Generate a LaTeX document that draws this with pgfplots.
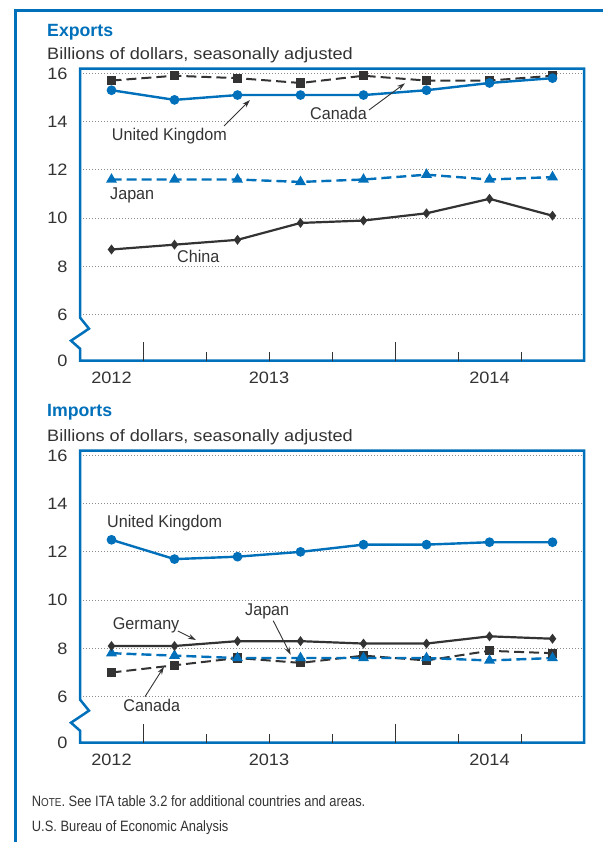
\documentclass[border=0pt]{standalone}
\usepackage{fontspec}
\setmainfont{Liberation Sans}
\newfontfamily\widefont{Liberation Sans}[FakeStretch=1.1]
\newfontfamily\narrowfont{Liberation Sans}[FakeStretch=0.95]
\newfontfamily\notefont{Liberation Sans}[FakeStretch=0.86]
\usepackage{pgfplots}
\pgfplotsset{compat=1.18}
\usetikzlibrary{arrows.meta}
\definecolor{beablue}{RGB}{0,112,186}
\definecolor{dk}{RGB}{51,51,51}
\definecolor{gridgray}{RGB}{140,140,140}
\newcommand\titf{\fontsize{17.7bp}{20bp}\selectfont\bfseries}
\newcommand\subf{\widefont\fontsize{16.5bp}{19bp}\selectfont}
\newcommand\lblf{\narrowfont\fontsize{17bp}{19bp}\selectfont}
\newcommand\notef{\notefont\fontsize{15bp}{17bp}\selectfont}

\pgfplotstableread{
x canE ukE japE chnE ukI gerI japI canI
0 15.7 15.3 11.6 8.7  12.5 8.1 7.8 7.0
1 15.9 14.9 11.6 8.9  11.7 8.1 7.7 7.3
2 15.8 15.1 11.6 9.1  11.8 8.3 7.6 7.6
3 15.6 15.1 11.5 9.8  12.0 8.3 7.6 7.4
4 15.9 15.1 11.6 9.9  12.3 8.2 7.6 7.7
5 15.7 15.3 11.8 10.2 12.3 8.2 7.6 7.5
6 15.7 15.6 11.6 10.8 12.4 8.5 7.5 7.9
7 15.9 15.8 11.7 10.1 12.4 8.4 7.6 7.8
}\data

\pgfplotsset{
  panel/.style={
    width=504bp, height=292bp, scale only axis,
    anchor=south west,
    xmin=-0.5, xmax=7.5, ymin=4.1, ymax=16.2,
    axis line style={draw=none},
    clip=false,
    /pgf/number format/assume math mode=true,
    ytick={6,8,10,12,14,16}, yticklabels={6,8,10,12,14,16},
    extra y ticks={4.1}, extra y tick labels={0},
    extra y tick style={grid=none},
    ymajorgrids,
    grid style={gridgray, line width=0.8bp, dash pattern=on 0.8bp off 2.2bp},
    major tick length=0pt,
    xtick style={draw=none}, ytick style={draw=none},
    xtick={0,2.5,6}, xticklabels={2012,2013,2014},
    xticklabel style={anchor=base, yshift=-22.5bp, font=\subf, text=dk},
    yticklabel style={anchor=east, inner sep=0pt, xshift=-12.3bp, font=\subf, text=dk},
  },
  blueline/.style={beablue, line width=2.4bp},
  darkline/.style={dk, line width=2.2bp},
  dashpat/.style={dash pattern=on 10bp off 5bp},
}

\newcommand\panelframe{%
  \draw[beablue, line width=2.5bp, line join=miter]
    (axis cs:-0.5,5.88) -- ([xshift=9bp]axis cs:-0.5,5.42) -- ([xshift=-9bp]axis cs:-0.5,4.92)
    -- (axis cs:-0.5,4.59) -- (axis cs:-0.5,4.1) -- (axis cs:7.5,4.1) -- (axis cs:7.5,16.2)
    -- (axis cs:-0.5,16.2) -- cycle;
  \draw[dk, line width=1bp] (axis cs:0.5,4.1) -- ++(0bp,19bp);
  \draw[dk, line width=1bp] (axis cs:4.5,4.1) -- ++(0bp,19bp);
  \draw[dk, line width=1bp] (axis cs:1.5,4.1) -- ++(0bp,9bp);
  \draw[dk, line width=1bp] (axis cs:2.5,4.1) -- ++(0bp,9bp);
  \draw[dk, line width=1bp] (axis cs:3.5,4.1) -- ++(0bp,9bp);
  \draw[dk, line width=1bp] (axis cs:5.5,4.1) -- ++(0bp,9bp);
  \draw[dk, line width=1bp] (axis cs:6.5,4.1) -- ++(0bp,9bp);
}

\begin{document}
\begin{tikzpicture}[x=1bp, y=1bp]
\path[use as bounding box] (0bp,0bp) rectangle (603bp,-842bp);
\draw[beablue, line width=2.7bp] (15.5,-842) -- (15.5,-10.5) -- (603,-10.5);

% ---------- Exports ----------
\node[anchor=base west, inner sep=0pt, text=beablue, font=\titf] at (47,-36.7) {Exports};
\node[anchor=base west, inner sep=0pt, text=dk, font=\subf] at (47,-59.3) {Billions of dollars, seasonally adjusted};
\begin{axis}[panel, at={(80bp,-360.5bp)}]
  \addplot[darkline, line width=2bp, dashpat, mark=square*, mark size=3.6bp, mark options={solid, fill=dk}] table[x=x, y=canE] {\data};
  \addplot[blueline, mark=*, mark size=3.6bp, mark options={solid, fill=beablue}] table[x=x, y=ukE] {\data};
  \addplot[blueline, dashpat, mark=triangle*, mark size=4bp, mark options={solid, fill=beablue}] table[x=x, y=japE] {\data};
  \addplot[darkline, mark=diamond*, mark size=3.2bp, mark options={solid, fill=dk}] table[x=x, y=chnE] {\data};
  \panelframe
\end{axis}
\node[anchor=base west, inner sep=0pt, text=dk, font=\lblf] at (111.7,-140) {United Kingdom};
\draw[dk, line width=0.9bp, -{Stealth[length=8bp, width=5bp]}] (224,-126) -- (250,-100);
\node[anchor=base west, inner sep=0pt, text=dk, font=\lblf] at (310,-119.3) {Canada};
\draw[dk, line width=0.9bp, -{Stealth[length=8bp, width=5bp]}] (369,-110) -- (405,-83.3);
\node[anchor=base west, inner sep=0pt, text=dk, font=\lblf] at (110,-199.5) {Japan};
\node[anchor=base west, inner sep=0pt, text=dk, font=\lblf] at (177,-262) {China};

% ---------- Imports ----------
\node[anchor=base west, inner sep=0pt, text=beablue, font=\titf] at (47,-416.7) {Imports};
\node[anchor=base west, inner sep=0pt, text=dk, font=\subf] at (47,-441.5) {Billions of dollars, seasonally adjusted};
\begin{axis}[panel, at={(80bp,-742.5bp)}]
  \addplot[darkline, line width=2bp, dashpat, mark=square*, mark size=3.6bp, mark options={solid, fill=dk}] table[x=x, y=canI] {\data};
  \addplot[blueline, dashpat, mark=triangle*, mark size=4bp, mark options={solid, fill=beablue}] table[x=x, y=japI] {\data};
  \addplot[darkline, mark=diamond*, mark size=3.2bp, mark options={solid, fill=dk}] table[x=x, y=gerI] {\data};
  \addplot[blueline, mark=*, mark size=3.6bp, mark options={solid, fill=beablue}] table[x=x, y=ukI] {\data};
  \panelframe
\end{axis}
\node[anchor=base west, inner sep=0pt, text=dk, font=\lblf] at (107,-527) {United Kingdom};
\node[anchor=base west, inner sep=0pt, text=dk, font=\lblf] at (112.7,-629.3) {Germany};
\draw[dk, line width=0.9bp, -{Stealth[length=8bp, width=5bp]}] (177.8,-631) -- (196,-640);
\node[anchor=base west, inner sep=0pt, text=dk, font=\lblf] at (245,-615) {Japan};
\draw[dk, line width=0.9bp, -{Stealth[length=8bp, width=5bp]}] (273.2,-620.7) -- (290.7,-654.8);
\node[anchor=base west, inner sep=0pt, text=dk, font=\lblf] at (123.3,-711.7) {Canada};
\draw[dk, line width=0.9bp, -{Stealth[length=8bp, width=5bp]}] (145,-696.7) -- (164,-666.7);

% ---------- Notes ----------
\node[anchor=base west, inner sep=0pt, text=dk, font=\notef] at (31.7,-806.7) {N{\fontsize{11.5bp}{13bp}\selectfont OTE}. See ITA table 3.2 for additional countries and areas.};
\node[anchor=base west, inner sep=0pt, text=dk, font=\notef] at (31.7,-831.7) {U.S. Bureau of Economic Analysis};
\end{tikzpicture}
\end{document}
